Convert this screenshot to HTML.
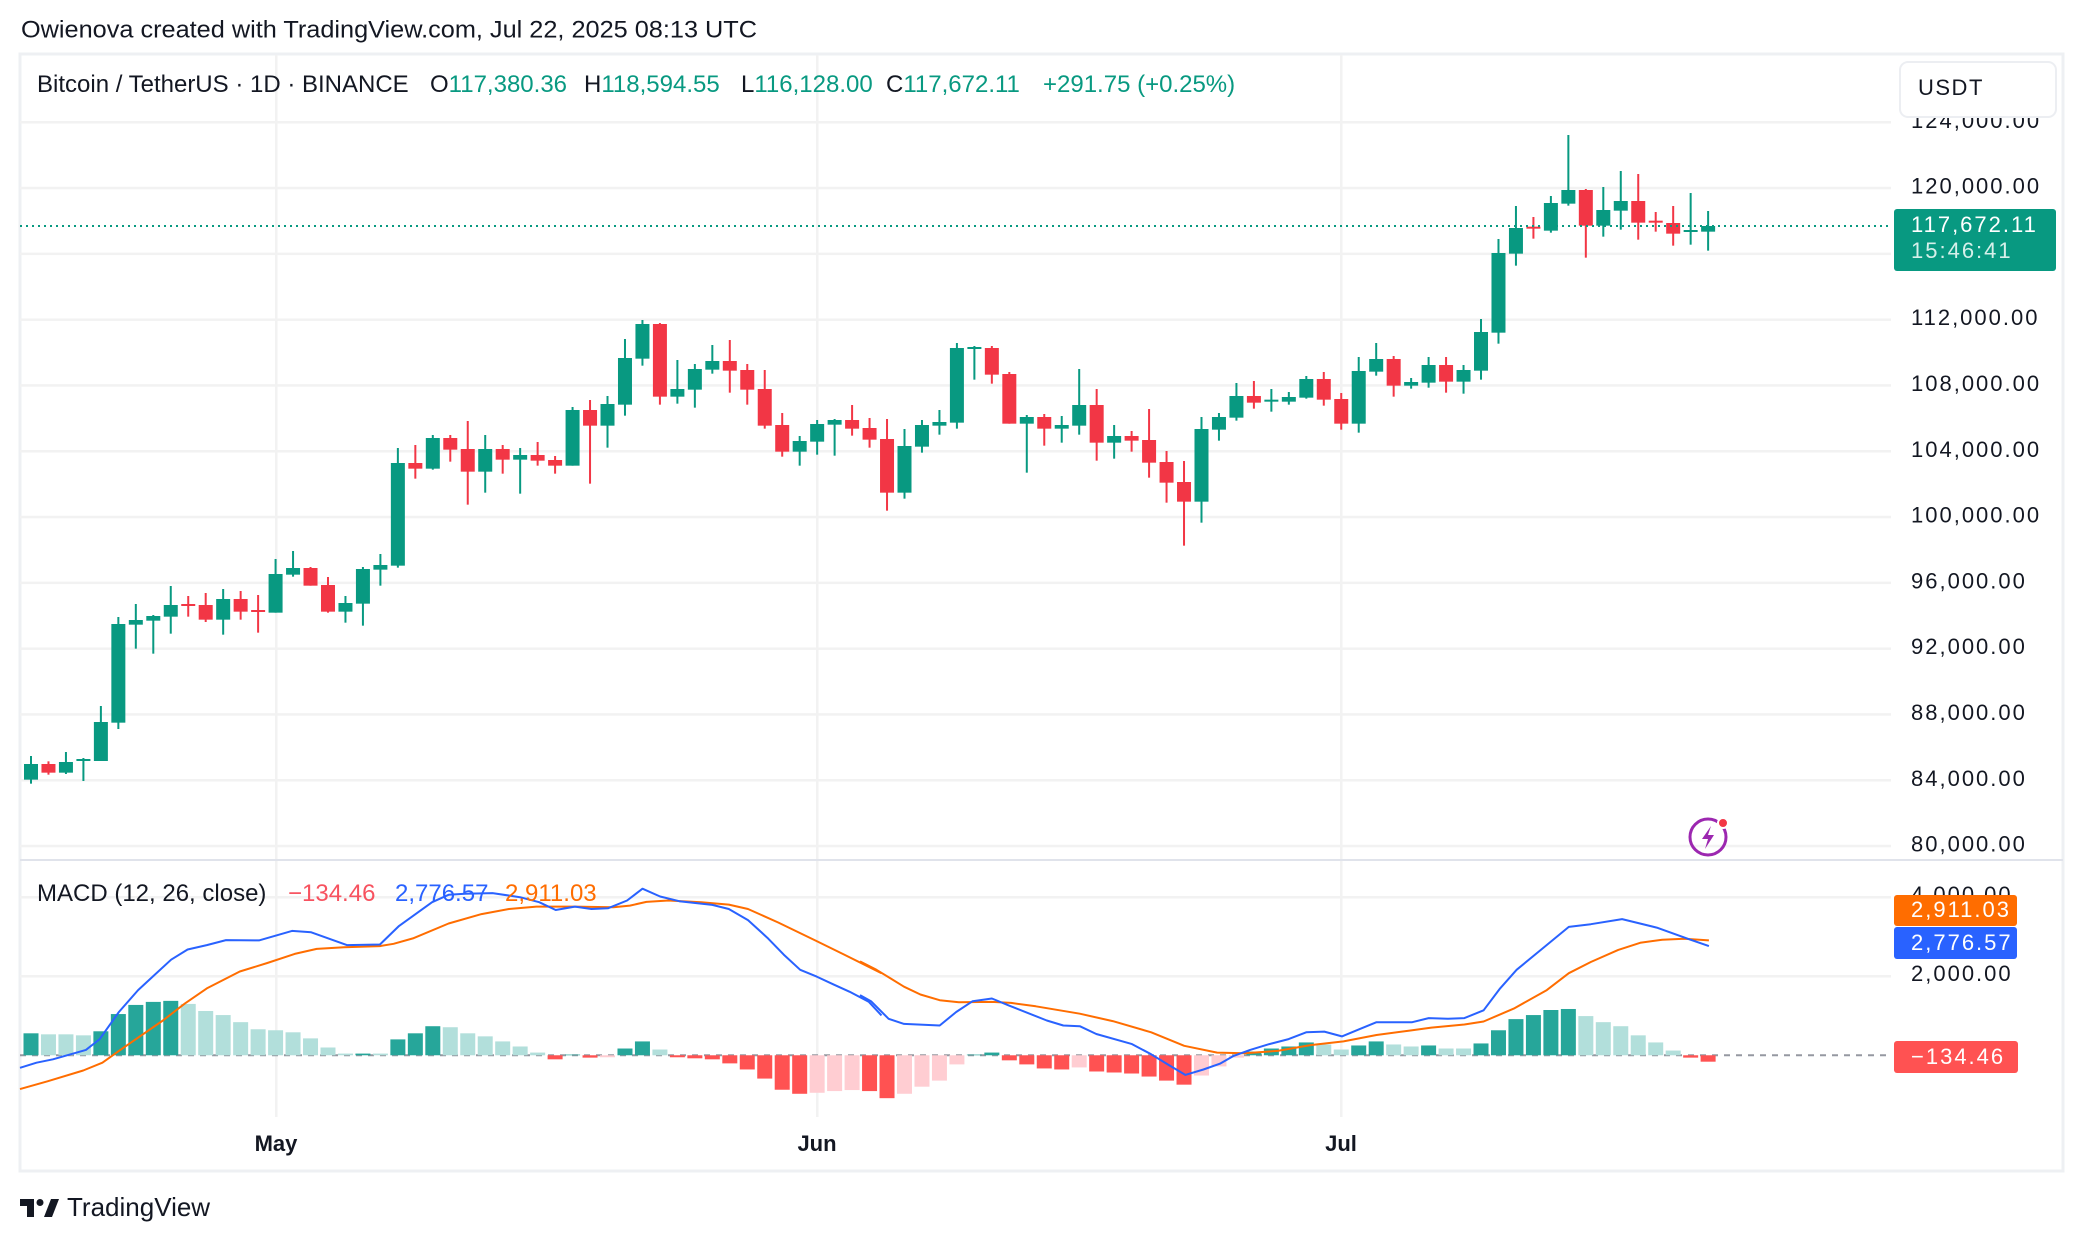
<!DOCTYPE html>
<html><head><meta charset="utf-8">
<style>
html,body{margin:0;padding:0;background:#fff;}
body{width:2084px;height:1242px;overflow:hidden;position:relative;font-family:"Liberation Sans",Arial,sans-serif;}
</style></head>
<body>
<svg id="s" width="2084" height="1242" xmlns="http://www.w3.org/2000/svg" style="position:absolute;left:0;top:0" font-family="Liberation Sans, Arial, sans-serif"></svg>
<script>
const S=document.getElementById('s');
let h='';
function r(x,y,w,H,f){h+=`<rect x="${x}" y="${y}" width="${w}" height="${H}" fill="${f}"/>`;}
function t(x,y,s,txt,f,a,extra){h+=`<text x="${x}" y="${y}" font-size="${s}" fill="${f}" text-anchor="${a||'start'}" dominant-baseline="middle" ${extra||''}>${txt}</text>`;}
t(21,31,24,'Owienova created with TradingView.com, Jul 22, 2025 08:13 UTC','#131722','start','textLength="736" lengthAdjust="spacingAndGlyphs"');
h+=`<rect x="20" y="54" width="2043" height="1117" fill="none" stroke="#eef0f3" stroke-width="3"/>`;
for(let k=0;k<12;k++){let y=122+k*65.8;r(20,y-1,1871,2.5,'#f2f2f2');}
r(20,896,1871,2.5,'#f2f2f2');r(20,975,1871,2.5,'#f2f2f2');
[276,817,1341].forEach(x=>r(x-1,55,2.5,1062,'#f2f2f2'));
r(20,859,2043,2,'#e0e3eb');
const Z=[
[1368,1392,1439,1451,'G'],[1384,1392,1418,1424,'R'],[1356,1386,1418,1422,'G'],[1374,1377,1382,1443,'G'],[1218,1266,1383,1383,'G'],
[951,972,1268,1287,'G'],[912,960,974,1046,'G'],[945,948,962,1061,'G'],[858,915,950,1001,'G'],[888,912,917,950,'R'],
[879,915,959,966,'R'],[867,897,959,1004,'G'],[873,897,935,959,'R'],[885,930,935,998,'R'],[777,822,938,938,'G'],
[753,804,824,830,'G'],[801,804,857,857,'R'],[831,855,935,938,'R'],[888,909,935,968,'G'],[801,807,911,977,'G'],
[762,795,809,857,'G'],[444,489,797,803,'G'],[435,489,506,536,'R'],[405,414,506,509,'G'],[405,414,449,485,'R']];
const Z4=[[363,447,515,614,'R'],[405,447,515,578,'G'],[435,447,479,521,'R'],[444,465,479,581,'G'],[426,465,482,497,'R'],
[468,480,497,521,'R'],[321,330,497,497,'G'],[300,330,377,551,'R'],[288,312,377,443,'G'],[117,174,314,347,'G'],
[60,72,176,197,'G'],[69,72,290,314,'R'],[180,267,290,311,'G'],[192,207,269,323,'G'],[135,183,209,221,'G'],
[120,183,212,278,'R'],[192,210,269,314,'R'],[210,267,377,386,'R'],[339,375,455,470,'R'],[408,423,455,497,'G'],
[360,372,425,464,'G'],[357,360,374,467,'G'],[315,360,386,407,'R'],[354,384,419,443,'R']];
const Z5=[[357,417,578,632,'R'],[387,438,578,596,'G'],[360,375,440,458,'G'],[330,366,377,404,'G'],[129,144,368,386,'G'],
[138,141,146,239,'G'],[138,144,224,251,'R'],[216,222,371,371,'R'],[345,351,371,518,'G'],[342,351,386,437,'R'],
[348,375,386,428,'G'],[207,315,377,404,'G'],[267,315,428,482,'R'],[375,408,428,476,'G'],[393,408,422,455,'R'],
[327,420,488,533,'R'],[453,486,548,608,'R'],[483,546,605,737,'R'],[351,387,605,668,'G'],[339,351,389,422,'G'],
[249,288,353,362,'G'],[243,288,308,326,'R'],[267,299,305,335,'G']];
const Z6=[[816,831,845,854,'G'],[768,777,833,836,'G'],[756,777,839,857,'R'],[819,837,911,929,'R'],[711,753,911,938,'G'],
[669,717,755,767,'G'],[708,717,797,830,'R'],[774,786,797,806,'G'],[711,735,788,803,'G'],[711,735,785,818,'R'],
[735,750,785,821,'G'],[597,636,752,779,'G'],[357,399,638,671,'G'],[258,324,401,437,'G'],[291,320,326,356,'R'],
[228,249,332,338,'G'],[45,210,251,257,'G'],[207,210,317,413,'R'],[201,270,317,350,'G'],[153,243,272,329,'G'],
[162,243,308,359,'R'],[276,302,308,335,'R'],[258,309,341,377,'R'],[219,330,335,374,'G'],[273,318,335,392,'G']];
let C=[];
Z.forEach(c=>C.push(c.slice(0,4).map(v=>300+v/3).concat(c[4])));
Z4.forEach(c=>C.push(c.slice(0,4).map(v=>300+v/3).concat(c[4])));
Z5.forEach(c=>C.push(c.slice(0,4).map(v=>300+v/3).concat(c[4])));
Z6.forEach(c=>C.push(c.slice(0,4).map(v=>120+v/3).concat(c[4])));
C.forEach((c,i)=>{const x=31+17.47*i;const col=c[4]=='G'?'#089981':'#F23645';
 r(x-1,c[0],2,c[3]-c[0],col);r(x-7,c[1],14,Math.max(2,c[2]-c[1]),col);});
h+=`<line x1="20" y1="226" x2="1891" y2="226" stroke="#089981" stroke-width="2" stroke-dasharray="2 4"/>`;
const HB=[[513,'G'],[516,'g'],[516,'g'],[519,'g'],[507,'G'],[456,'G'],[429,'G'],[420,'G'],[417,'G'],[426,'g'],
[447,'g'],[459,'g'],[480,'g'],[501,'g'],[504,'g'],[510,'g'],[528,'g'],[555,'g'],[573,'g'],[573,'G'],
[573,'g'],[531,'G'],[513,'G'],[492,'G'],[495,'g'],[513,'g'],[522,'g'],[537,'g'],[552,'g'],[570,'g'],
[590,'R'],[576,'G'],[585,'R'],[580,'r'],[558,'G'],[537,'G'],[561,'g'],[583,'R'],[587,'R'],[590,'R'],
[602,'R'],[620,'R'],[647,'R'],[680,'R'],[692,'R'],[689,'r'],[684,'r'],[681,'r'],[684,'R'],[705,'R'],
[692,'r'],[671,'r'],[653,'r'],[605,'r'],[576,'G'],[570,'G'],[593,'R'],[605,'R'],[617,'R'],[620,'R'],
[614,'r'],[626,'R'],[629,'R'],[632,'R'],[641,'R'],[653,'R'],[665,'R'],[638,'r'],[611,'r'],[585,'r'],
[567,'G'],[558,'G'],[552,'G'],[540,'G'],[546,'g'],[561,'g'],[549,'G'],[537,'G'],[546,'g'],[552,'g'],
[549,'G'],[558,'g'],[558,'g'],[543,'G'],[504,'G'],[471,'G'],[459,'G'],[444,'G'],[441,'G'],[462,'g'],
[480,'g'],[492,'g'],[519,'g'],[540,'g'],[564,'g'],[585,'R'],[597,'R']];
const HC={G:'#26a69a',g:'#b2dfdb',R:'#ff5252',r:'#ffcdd2'};
const Y0=860+578/2.96;
h+=`<line x1="20" y1="${Y0}" x2="1891" y2="${Y0}" stroke="#9598a1" stroke-width="2" stroke-dasharray="6 6"/>`;
HB.forEach((b,i)=>{const x=31+17.47*i;const y=860+b[0]/2.96;
 if(y<Y0) r(x-7.5,y,15,Y0-y,HC[b[1]]); else r(x-7.5,Y0,15,Math.max(2,y-Y0),HC[b[1]]);});
function pl(pts,ox,col){let p=pts.map(q=>`${(ox+q[0]/1.82).toFixed(1)},${(860+q[1]/2.96).toFixed(1)}`).join(' ');
 h+=`<polyline points="${p}" fill="none" stroke="${col}" stroke-width="2" stroke-linejoin="round"/>`;}
pl([[0,678],[50,655],[115,623],[150,600],[180,565],[220,520],[260,475],[300,425],[340,380],[400,330],[450,305],[500,278],[540,263],[590,258],[655,255],[680,248],[715,232],[780,188],[840,160],[890,145],[940,138],[1010,138],[1080,140],[1110,135],[1140,124],[1180,120],[1240,125],[1290,132],[1325,145],[1380,185],[1450,240],[1500,280],[1568,335]],20,'#ff6d00');
pl([[0,300],[30,325],[80,375],[110,398],[145,415],[180,421],[240,420],[275,423],[320,433],[400,455],[460,477],[530,510],[590,550],[650,570],[700,572],[760,565],[820,548],[880,537],[940,518],[1000,505],[1040,496],[1100,487],[1135,478],[1190,440],[1250,385],[1290,335],[1330,302],[1380,266],[1420,245],[1460,236],[1500,233],[1545,238]],860,'#ff6d00');
pl([[0,615],[30,600],[60,590],[120,562],[145,530],[180,450],[215,385],[245,340],[275,295],[305,265],[340,252],[375,237],[435,238],[495,210],[530,214],[595,252],[655,250],[690,195],[720,160],[750,125],[780,103],[810,100],[860,98],[910,110],[945,125],[975,148],[1010,138],[1040,145],[1070,143],[1105,120],[1133,85],[1165,108],[1200,122],[1260,133],[1290,145],[1325,178],[1360,230],[1390,280],[1420,325],[1450,345],[1480,368],[1510,390],[1545,420],[1568,460]],20,'#2962ff');
pl([[0,400],[20,418],[52,470],[80,485],[145,490],[175,450],[205,418],[240,410],[270,430],[340,475],[370,490],[400,492],[430,515],[495,545],[530,575],[560,605],[592,636],[625,620],[655,603],[680,580],[710,562],[745,545],[780,530],[812,510],[845,508],[877,522],[910,500],[940,480],[1005,480],[1035,468],[1070,470],[1100,468],[1135,445],[1165,380],[1195,325],[1240,265],[1290,198],[1330,190],[1387,175],[1450,200],[1510,235],[1545,255]],860,'#2962ff');
h+=`<text y="86" font-size="24" dominant-baseline="middle" fill="#131722"><tspan x="37">Bitcoin / TetherUS · 1D · BINANCE</tspan><tspan x="430">O</tspan><tspan fill="#089981">117,380.36</tspan><tspan x="584">H</tspan><tspan fill="#089981">118,594.55</tspan><tspan x="741">L</tspan><tspan fill="#089981">116,128.00</tspan><tspan x="886">C</tspan><tspan fill="#089981">117,672.11</tspan><tspan x="1043" fill="#089981">+291.75 (+0.25%)</tspan></text>`;
h+=`<text y="895" font-size="24" dominant-baseline="middle" fill="#131722"><tspan x="37">MACD (12, 26, close)</tspan><tspan x="288" fill="#f7525f">−134.46</tspan><tspan x="395" fill="#2962ff">2,776.57</tspan><tspan x="505" fill="#ff6d00">2,911.03</tspan></text>`;
const labs=['124,000.00','120,000.00','116,000.00','112,000.00','108,000.00','104,000.00','100,000.00','96,000.00','92,000.00','88,000.00','84,000.00','80,000.00'];
labs.forEach((l,k)=>{if(k==2)return;t(1911,122+k*65.8,22,l,'#131722','start','letter-spacing="2"');});
t(1911,896,22,'4,000.00','#131722','start','letter-spacing="2"');
t(1911,975,22,'2,000.00','#131722','start','letter-spacing="2"');
h+=`<rect x="1900" y="62" width="156" height="55" rx="8" fill="#fff" stroke="#eceef2" stroke-width="2"/>`;
t(1918,89,22,'USDT','#131722','start','letter-spacing="1.5"');
h+=`<rect x="1894" y="209" width="162" height="62" rx="3" fill="#089981"/>`;
t(1911,226,22,'117,672.11','#ffffff','start','letter-spacing="2"');
t(1911,252,22,'15:46:41','#d6f0ea','start','letter-spacing="2"');
h+=`<rect x="1894" y="895" width="123" height="31" rx="3" fill="#ff6d00"/>`;t(1911,911,22,'2,911.03','#fff','start','letter-spacing="2"');
h+=`<rect x="1894" y="927" width="123" height="32" rx="3" fill="#2962ff"/>`;t(1911,944,22,'2,776.57','#fff','start','letter-spacing="2"');
h+=`<rect x="1894" y="1041" width="124" height="32" rx="3" fill="#ff5252"/>`;t(1911,1058,22,'−134.46','#fff','start','letter-spacing="2"');
t(276,1145,22,'May','#131722','middle','font-weight="bold"');
t(817,1145,22,'Jun','#131722','middle','font-weight="bold"');
t(1341,1145,22,'Jul','#131722','middle','font-weight="bold"');
h+=`<circle cx="1708" cy="837" r="18" fill="none" stroke="#9c27b0" stroke-width="3"/><path d="M1711 826 L1702 839 L1708 839 L1705 849 L1714 835 L1708 835 Z" fill="#9c27b0"/><circle cx="1723" cy="823" r="5" fill="#f23645" stroke="#fff" stroke-width="2"/>`;
h+=`<path d="M20 1199 h14 v18 h-7 v-11 h-7z" fill="#131722"/><circle cx="40" cy="1202.5" r="3.5" fill="#131722"/><path d="M44 1217 l7 -18 h8 l-7 18z" fill="#131722"/>`;
t(67,1209,26,'TradingView','#131722');
S.innerHTML=h;
</script>
</body></html>
